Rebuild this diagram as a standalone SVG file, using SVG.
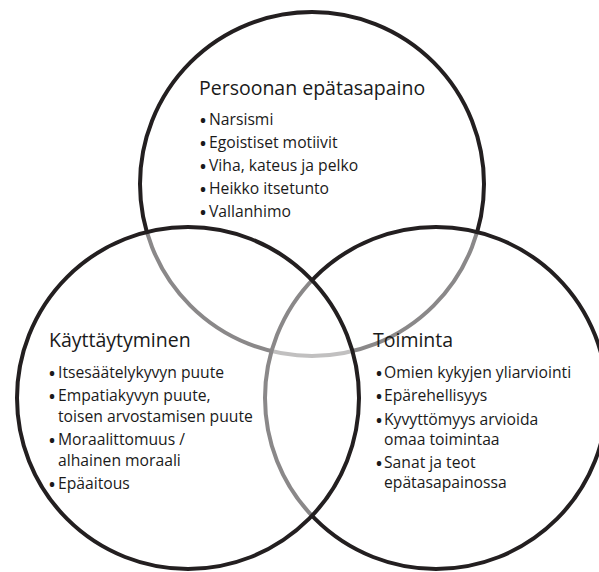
<svg xmlns="http://www.w3.org/2000/svg" width="599" height="572" viewBox="0 0 599 572">
  <style>
    .ring { fill: #ffffff; fill-opacity: 0.47; stroke: #231f20; stroke-width: 4; }
    .title { font-family: "Open Sans", "Noto Sans", sans-serif; font-size: 19.5px; fill: #1a1a1a; }
    .item { font-family: "Open Sans", "Noto Sans", sans-serif; font-size: 15.7px; fill: #1a1a1a; }
    .dot { font-family: "Open Sans", "Noto Sans", sans-serif; font-size: 16px; font-weight: 700; fill: #1a1a1a; }
  </style>
  <rect width="599" height="572" fill="#ffffff"/>

  <!-- Upper set -->
  <g id="persoona">
    <circle class="ring" cx="312" cy="184" r="172"/>
    <text class="title" x="199" y="95">Persoonan epätasapaino</text>
    <text class="dot" x="200" y="126">•</text><text class="item" x="209" y="125">Narsismi</text>
    <text class="dot" x="200" y="149">•</text><text class="item" x="209" y="148">Egoistiset motiivit</text>
    <text class="dot" x="200" y="172">•</text><text class="item" x="209" y="171">Viha, kateus ja pelko</text>
    <text class="dot" x="200" y="195">•</text><text class="item" x="209" y="194">Heikko itsetunto</text>
    <text class="dot" x="200" y="218">•</text><text class="item" x="209" y="217">Vallanhimo</text>
  </g>

  <!-- Lower right set -->
  <g id="toiminta">
    <circle class="ring" cx="436" cy="398" r="171"/>
    <text class="title" x="373" y="347">Toiminta</text>
    <text class="dot" x="376" y="379">•</text><text class="item" x="384" y="378">Omien kykyjen yliarviointi</text>
    <text class="dot" x="376" y="402">•</text><text class="item" x="384" y="401">Epärehellisyys</text>
    <text class="dot" x="376" y="426">•</text><text class="item" x="384" y="425">Kyvyttömyys arvioida</text>
    <text class="item" x="384" y="445">omaa toimintaa</text>
    <text class="dot" x="376" y="469">•</text><text class="item" x="384" y="468">Sanat ja teot</text>
    <text class="item" x="384" y="488">epätasapainossa</text>
  </g>

  <!-- Lower left set -->
  <g id="kayttaytyminen">
    <circle class="ring" cx="188" cy="398" r="171"/>
    <text class="title" x="49" y="347">Käyttäytyminen</text>
    <text class="dot" x="49" y="379">•</text><text class="item" x="58" y="378">Itsesäätelykyvyn puute</text>
    <text class="dot" x="49" y="402">•</text><text class="item" x="58" y="401">Empatiakyvyn puute,</text>
    <text class="item" x="58" y="422">toisen arvostamisen puute</text>
    <text class="dot" x="49" y="446">•</text><text class="item" x="58" y="445">Moraalittomuus /</text>
    <text class="item" x="58" y="466">alhainen moraali</text>
    <text class="dot" x="49" y="490">•</text><text class="item" x="58" y="489">Epäaitous</text>
  </g>

  <g id="connectors"/>
</svg>
